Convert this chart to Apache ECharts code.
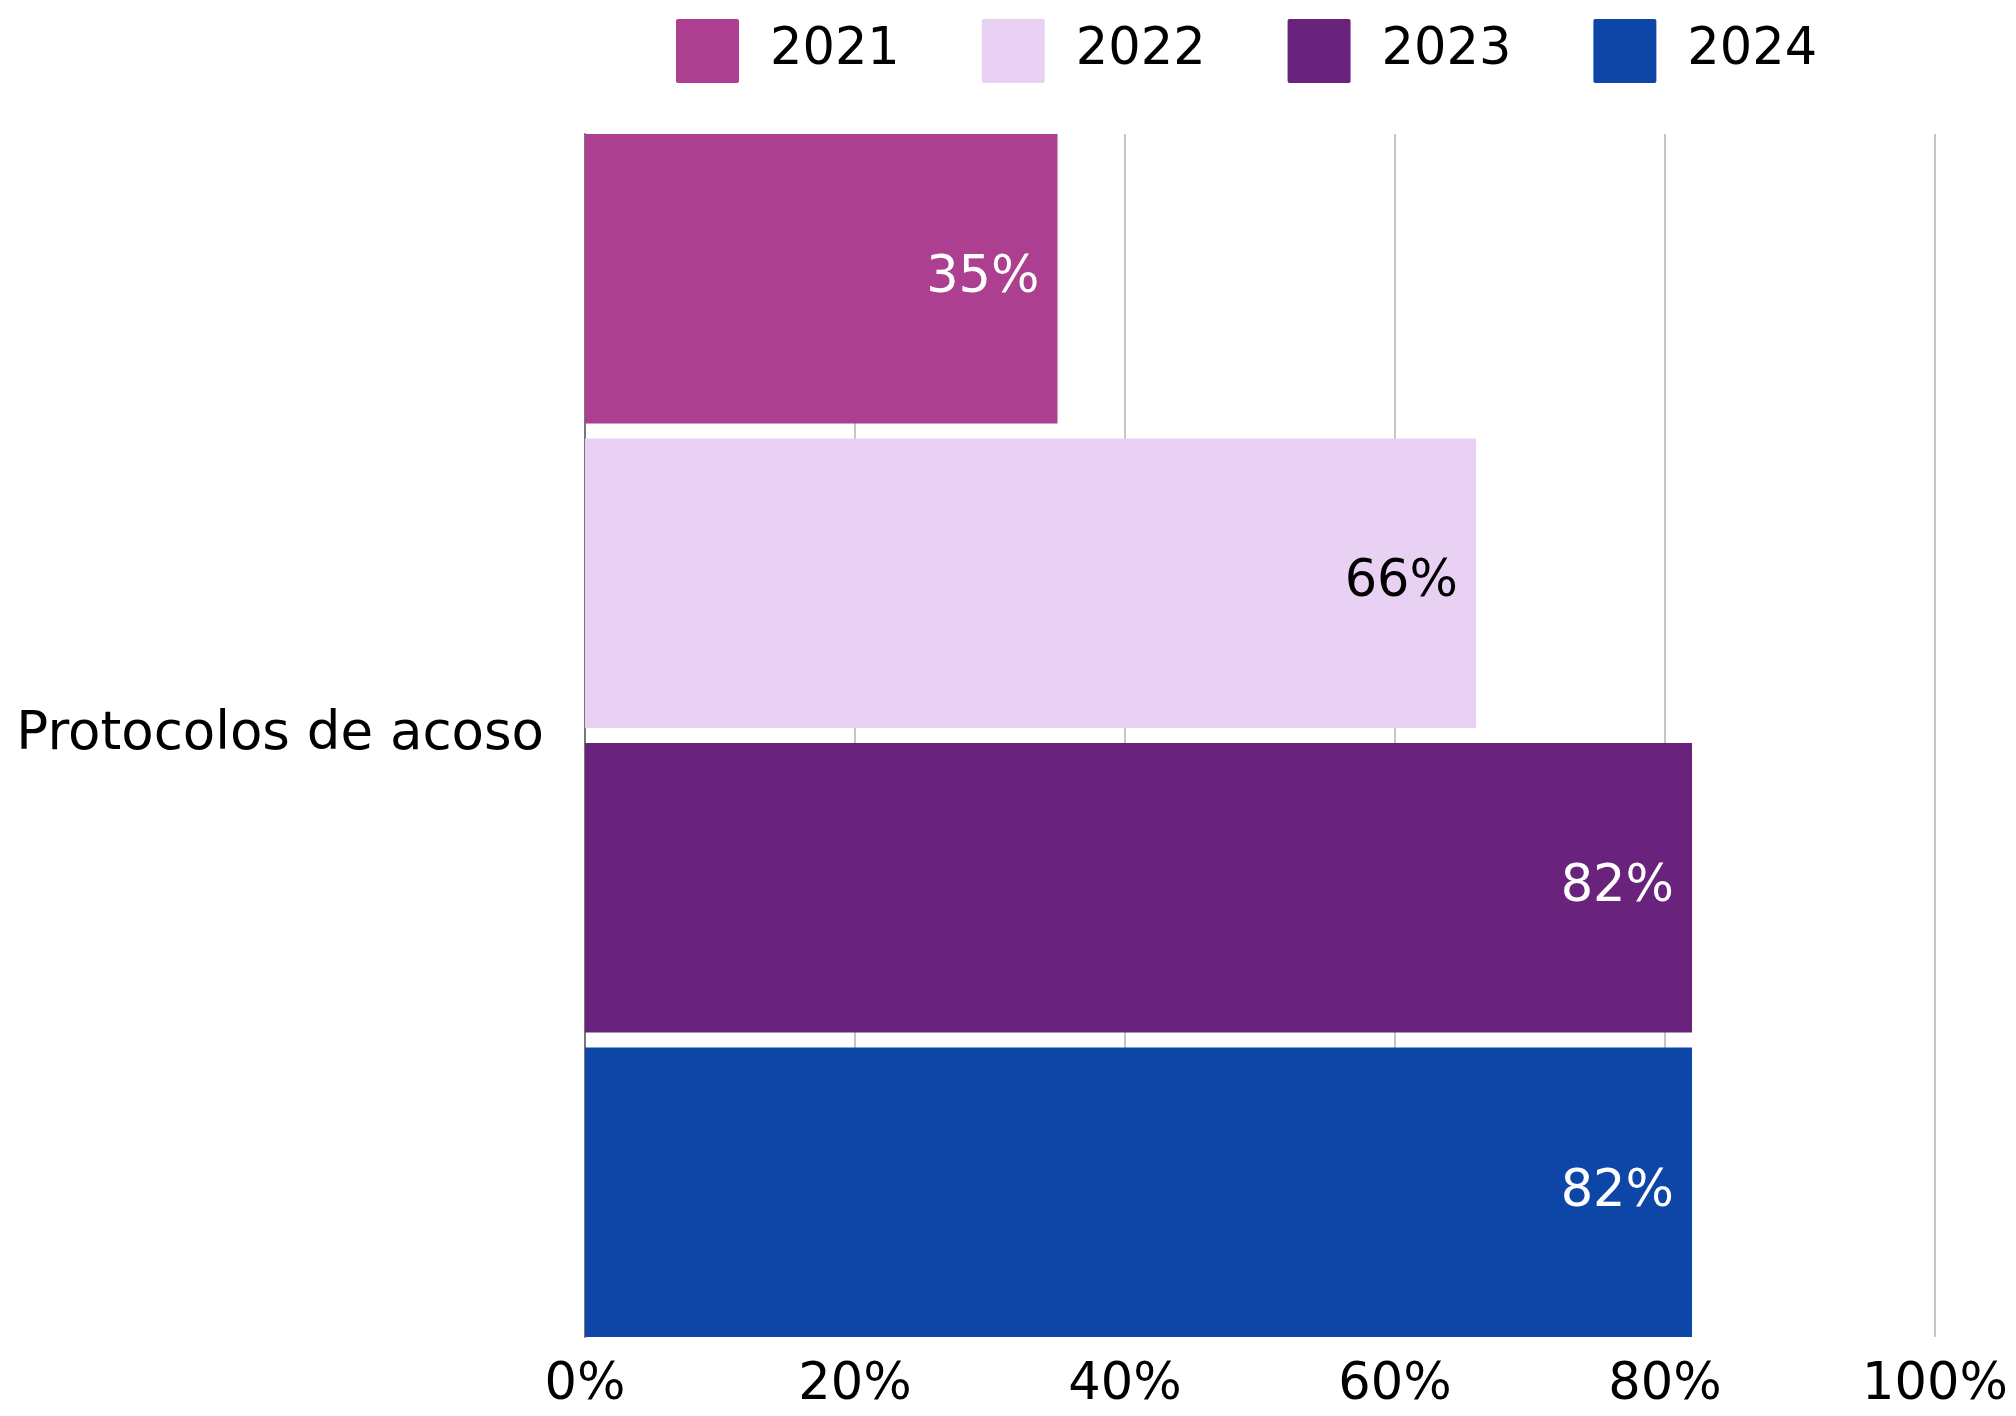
<!DOCTYPE html>
<html>
<head>
<meta charset="utf-8">
<script src="https://cdn.jsdelivr.net/npm/echarts@6/dist/echarts.min.js"></script>
<style>
  html, body { margin: 0; padding: 0; background: #ffffff; }
  #chart { width: 2016px; height: 1416px; }
</style>
</head>
<body>
<div id="chart"></div>
<script>
var categories = ['Protocolos de acoso'];
var years = ['2021', '2022', '2023', '2024'];
var values2021 = [35];
var values2022 = [66];
var values2023 = [82];
var values2024 = [82];
var xTicks = [0, 20, 40, 60, 80, 100];

var colors = ['#AC3F8F', '#E9D1F4', '#6A237D', '#0E46A8'];
var labelColors = ['#ffffff', '#000000', '#ffffff', '#ffffff'];
var seriesValues = [values2021, values2022, values2023, values2024];

var font = "'DejaVu Sans', sans-serif";

var myChart = echarts.init(document.getElementById('chart'));

var series = years.map(function (y, i) {
  return {
    name: y,
    type: 'bar',
    data: seriesValues[i],
    barGap: '5.2%',
    barCategoryGap: 0,
    itemStyle: { color: colors[i] },
    label: {
      show: true,
      position: 'insideRight',
      distance: 18,
      formatter: '{c}%',
      color: labelColors[i],
      fontFamily: font,
      fontSize: 51
    }
  };
});

var option = {
  animation: false,
  backgroundColor: '#ffffff',
  legend: {
    data: years,
    left: 671,
    top: 14,
    icon: 'path://M2,0 L61,0 Q63,0 63,2 L63,62 Q63,64 61,64 L2,64 Q0,64 0,62 L0,2 Q0,0 2,0 Z',
    itemWidth: 63,
    itemHeight: 64,
    itemGap: 82,
    textStyle: {
      fontFamily: font,
      fontSize: 51,
      color: '#000000',
      padding: [0, 0, 0, 26]
    }
  },
  grid: {
    left: 585,
    right: 81,
    top: 134,
    bottom: 79,
    containLabel: false
  },
  xAxis: {
    type: 'value',
    min: xTicks[0],
    max: xTicks[xTicks.length - 1],
    interval: 20,
    axisLine: { show: false },
    axisTick: { show: false },
    axisLabel: {
      formatter: '{value}%',
      fontFamily: font,
      fontSize: 51,
      color: '#000000',
      margin: 23
    },
    splitLine: {
      show: true,
      lineStyle: { color: '#c6c6c6', width: 2 }
    }
  },
  yAxis: {
    type: 'category',
    data: categories,
    inverse: true,
    axisLine: { show: true, lineStyle: { color: '#777777', width: 2 } },
    axisTick: { show: false },
    axisLabel: {
      fontFamily: font,
      fontSize: 53,
      color: '#000000',
      margin: 41
    }
  },
  series: series
};

myChart.setOption(option);
</script>
</body>
</html>
